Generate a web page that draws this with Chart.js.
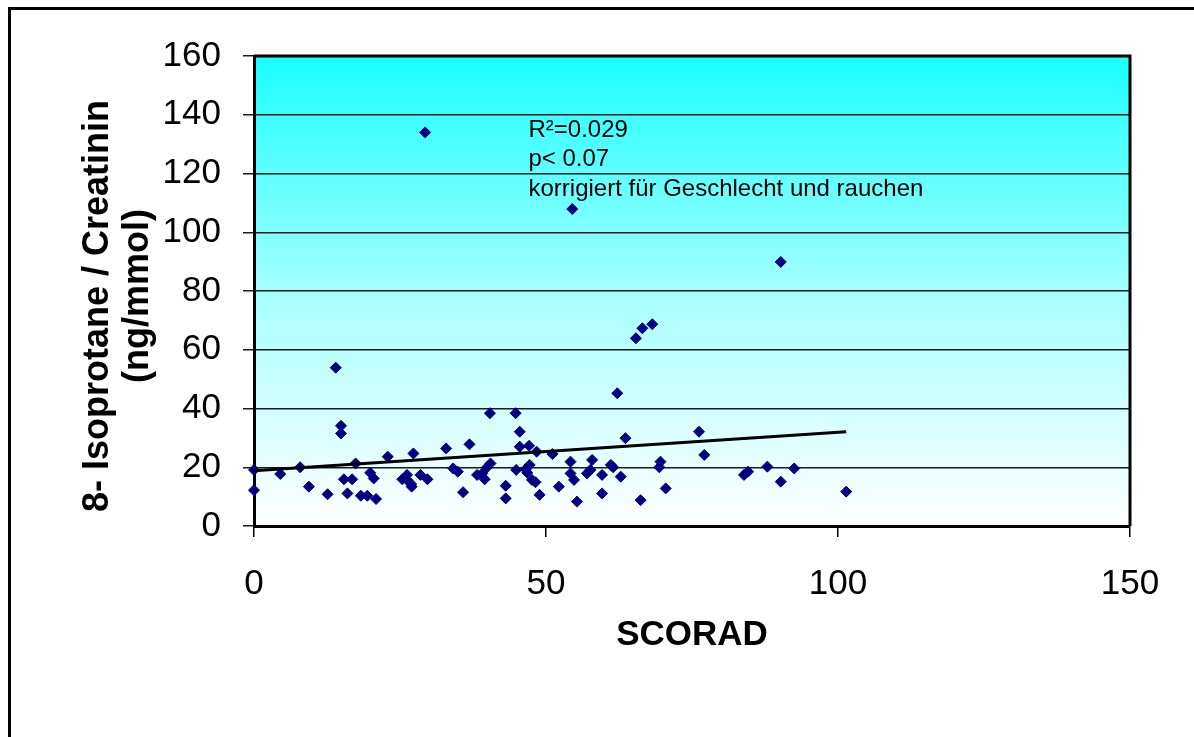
<!DOCTYPE html>
<html>
<head>
<meta charset="utf-8">
<script src="https://cdn.jsdelivr.net/npm/chart.js@4"></script>
<style>
  body { margin: 0; background: #fff; overflow: hidden; }
  #wrap { position: relative; width: 1194px; height: 737px; }
</style>
</head>
<body>
<div id="wrap"><canvas id="myChart"></canvas></div>
<script>
const scoradX = [
  0, 0, 4.5, 7.9, 9.4, 12.6, 14.0, 14.9, 14.9, 15.4,
  16.8, 16.0, 17.4, 18.3, 19.4, 19.9, 20.5, 20.9, 22.9, 25.4,
  26.2, 26.9, 27.3, 28.5, 29.7, 26.2, 27.0, 29.3, 32.9, 36.9,
  34.1, 34.9, 35.8, 40.4, 40.5, 39.9, 38.2, 39.1, 39.5, 43.1,
  43.1, 44.8, 45.5, 45.5, 47.1, 48.4, 44.9, 46.5, 47.2, 46.8,
  47.6, 48.2, 48.9, 51.1, 52.2, 54.2, 54.2, 54.8, 55.3, 57.9,
  57.0, 57.6, 59.6, 59.6, 61.1, 61.5, 62.8, 62.2, 63.6, 65.4,
  66.5, 68.2, 76.2, 77.1, 69.6, 69.4, 70.5, 66.2, 83.9, 84.6,
  87.9, 90.2, 92.5, 101.4, 90.2, 54.5
];
const isoY = [
  19.1, 12.2, 17.7, 20, 13.4, 10.8, 53.9, 34.1, 31.5, 15.9,
  15.9, 11.1, 21.3, 10.3, 10.3, 18.1, 16.2, 9.2, 23.6, 15.9,
  17.4, 14.3, 24.7, 17.4, 15.9, 15.7, 13.4, 134, 26.4, 27.8,
  19.6, 18.5, 11.5, 38.4, 21.3, 20, 17.4, 17.9, 15.9, 13.7,
  9.4, 38.4, 32.1, 27.0, 27.3, 25.3, 19.1, 19.3, 20.8, 18.1,
  15.7, 14.9, 10.6, 24.5, 13.4, 21.9, 17.9, 15.7, 8.3, 22.5,
  17.9, 19.1, 17.4, 11.1, 20.8, 20, 16.8, 45.2, 29.9, 63.9,
  67.3, 68.7, 32.1, 24.2, 21.9, 20, 12.8, 8.8, 17.4, 18.5,
  20.2, 15.1, 19.6, 11.7, 89.9, 107.9
];

// Regressionsgerade (Endpunkte)
const trendX = [0, 101.4];
const trendY = [18.8, 32.1];

// Beschriftung
const notes = ['R\u00b2=0.029', 'p< 0.07', 'korrigiert f\u00fcr Geschlecht und rauchen'];

const points = scoradX.map((x, i) => ({ x: x, y: isoY[i] }));
const trend = trendX.map((x, i) => ({ x: x, y: trendY[i] }));

// Hintergrund-Verlauf und Rahmen
const plotBg = {
  id: 'plotBg',
  beforeDraw(chart) {
    const { ctx, chartArea: a } = chart;
    const g = ctx.createLinearGradient(0, a.top, 0, a.bottom);
    g.addColorStop(0, 'rgb(25,255,255)');
    g.addColorStop(0.5, 'rgb(165,255,255)');
    g.addColorStop(1, 'rgb(255,255,255)');
    ctx.save();
    ctx.fillStyle = g;
    ctx.fillRect(a.left, a.top, a.right - a.left, a.bottom - a.top);
    // aeusserer Rahmen
    ctx.strokeStyle = '#000';
    ctx.lineWidth = 3;
    ctx.strokeRect(9.5, 8.5, 2000, 2000);
    ctx.restore();
  },
  afterDraw(chart) {
    const { ctx, chartArea: a } = chart;
    ctx.save();
    ctx.strokeStyle = '#000';
    ctx.lineWidth = 3;
    ctx.beginPath();
    ctx.moveTo(a.left, a.top);
    ctx.lineTo(a.right, a.top);
    ctx.lineTo(a.right, a.bottom);
    ctx.stroke();
    // Text
    ctx.fillStyle = '#000';
    ctx.font = '24px "Liberation Sans", Arial, sans-serif';
    ctx.textBaseline = 'middle';
    ctx.textAlign = 'left';
    const x0 = chart.scales.x.getPixelForValue(47);
    notes.forEach((t, i) => ctx.fillText(t, x0, 130 + i * 29.5));
    ctx.restore();
  }
};

const tickFont = { family: '"Liberation Sans", Arial, sans-serif', size: 35 };
const titleFont = { family: '"Liberation Sans", Arial, sans-serif', size: 35, weight: 'bold', lineHeight: 1.143 };
const yTitleFont = { family: '"Liberation Sans", Arial, sans-serif', size: 36, weight: 'bold', lineHeight: 1.12 };

new Chart(document.getElementById('myChart'), {
  type: 'scatter',
  data: {
    datasets: [
      {
        data: trend,
        showLine: true,
        borderColor: '#000',
        borderWidth: 3,
        pointRadius: 0
      },
      {
        data: points,
        clip: false,
        pointStyle: 'rectRot',
        pointRadius: 5.5,
        borderWidth: 1,
        backgroundColor: '#000080',
        borderColor: '#000080'
      }
    ]
  },
  options: {
    responsive: true,
    maintainAspectRatio: false,
    animation: false,
    layout: { padding: { top: 56, right: 64, left: 0, bottom: 0 } },
    plugins: { legend: { display: false }, tooltip: { enabled: false } },
    scales: {
      x: {
        min: 0, max: 150,
        afterFit(s) { s.height = 211; },
        ticks: { stepSize: 50, font: tickFont, color: '#000', padding: 26, maxRotation: 0 },
        grid: { drawOnChartArea: false, drawTicks: true, tickLength: 11, color: '#000', lineWidth: 1.5 },
        border: { display: true, color: '#000', width: 3 },
        title: { display: true, text: 'SCORAD', font: titleFont, color: '#000', padding: { top: 0, bottom: 82 } }
      },
      y: {
        min: 0, max: 160,
        afterFit(s) { s.width = 254; },
        ticks: { stepSize: 20, font: tickFont, color: '#000', padding: 22 },
        grid: { drawTicks: true, tickLength: 11, color: '#1a1a1a', lineWidth: 1.5 },
        border: { display: true, color: '#000', width: 3 },
        title: { display: true, text: ['8- Isoprotane / Creatinin   ', '(ng/mmol) '], font: yTitleFont, color: '#000', padding: { top: 78, bottom: 0 } }
      }
    }
  },
  plugins: [plotBg]
});
</script>
</body>
</html>
